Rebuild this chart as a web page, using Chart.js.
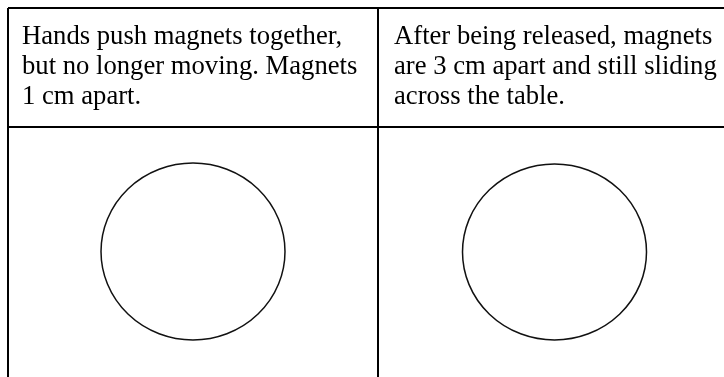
<!DOCTYPE html>
<html>
<head>
<meta charset="utf-8">
<script src="https://cdn.jsdelivr.net/npm/chart.js@4"></script>
<style>
  html, body { margin: 0; padding: 0; background: #ffffff; }
  #wrap { width: 724px; height: 377px; }
</style>
</head>
<body>
<div id="wrap"><canvas id="magnet-table" width="724" height="377"></canvas></div>
<script>
// --- table structure (in table units, origin at the outer top-left border) ---
const columnEdges = [0, 370];
const rowEdges = [0, 119];

// --- header cell texts, one array per column ---
const headerLeft = ['Hands push magnets together,', 'but no longer moving. Magnets', '1 cm apart.'];
const headerRight = ['After being released, magnets', 'are 3 cm apart and still sliding', 'across the table.'];

// --- drawing boxes: circle centres and radii ---
const circleX = [185, 546.5];
const circleY = [243.5, 244];
const circleRx = [92, 92];
const circleRy = [88.5, 88];

const ellipsePlugin = {
  id: 'ellipses',
  afterDatasetsDraw(chart) {
    const ctx = chart.ctx;
    const xs = chart.scales.x;
    const ys = chart.scales.y;
    const meta = chart.getDatasetMeta(0);
    ctx.save();
    ctx.strokeStyle = '#111111';
    ctx.lineWidth = 1.5;
    meta.data.forEach(function(pt, i) {
      const rx = Math.abs(xs.getPixelForValue(circleX[i] + circleRx[i]) - pt.x);
      const ry = Math.abs(ys.getPixelForValue(circleY[i] + circleRy[i]) - pt.y);
      ctx.beginPath();
      ctx.ellipse(pt.x, pt.y, rx, ry, 0, 0, Math.PI * 2);
      ctx.stroke();
    });
    ctx.restore();
  }
};

const cellTextPlugin = {
  id: 'cellText',
  afterDraw(chart) {
    const ctx = chart.ctx;
    const xs = chart.scales.x;
    const ys = chart.scales.y;
    const padX = [14, 16];
    const firstBaseline = 36;
    const lineStep = 30;
    ctx.save();
    ctx.fillStyle = '#000000';
    ctx.font = "26.67px 'Liberation Serif', 'Times New Roman', serif";
    ctx.textBaseline = 'alphabetic';
    [headerLeft, headerRight].forEach(function(lines, c) {
      const x = xs.getPixelForValue(columnEdges[c] + padX[c]);
      lines.forEach(function(line, i) {
        const y = ys.getPixelForValue(rowEdges[0] + firstBaseline + i * lineStep);
        ctx.fillText(line, x, y);
      });
    });
    ctx.restore();
  }
};

const ctx = document.getElementById('magnet-table').getContext('2d');
new Chart(ctx, {
  type: 'scatter',
  data: {
    datasets: [{
      data: circleX.map(function(x, i) { return { x: x, y: circleY[i] }; }),
      pointRadius: 0,
      pointHoverRadius: 0
    }]
  },
  options: {
    responsive: false,
    animation: false,
    devicePixelRatio: 1,
    layout: { padding: { left: 8, top: 8, right: 0, bottom: 0 } },
    plugins: {
      legend: { display: false },
      tooltip: { enabled: false }
    },
    scales: {
      x: {
        type: 'linear',
        min: 0,
        max: 716,
        afterBuildTicks: function(axis) {
          axis.ticks = columnEdges.map(function(v) { return { value: v }; });
        },
        grid: { color: '#000000', lineWidth: 2, drawTicks: false },
        border: { display: false },
        ticks: { display: false }
      },
      y: {
        type: 'linear',
        min: 0,
        max: 369,
        reverse: true,
        afterBuildTicks: function(axis) {
          axis.ticks = rowEdges.map(function(v) { return { value: v }; });
        },
        grid: { color: '#000000', lineWidth: 2, drawTicks: false },
        border: { display: false },
        ticks: { display: false }
      }
    }
  },
  plugins: [ellipsePlugin, cellTextPlugin]
});
</script>
</body>
</html>
